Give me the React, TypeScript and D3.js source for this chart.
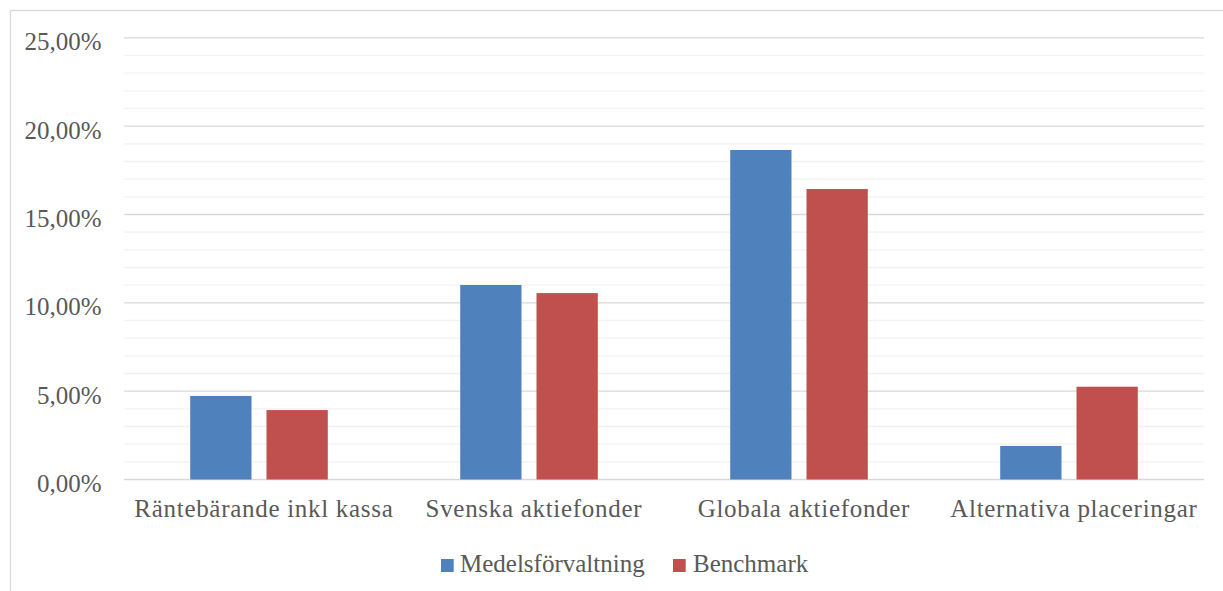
import React from "react";
import * as d3 from "d3";

const categories = [
  "Räntebärande inkl kassa",
  "Svenska aktiefonder",
  "Globala aktiefonder",
  "Alternativa placeringar",
];
const seriesNames = ["Medelsförvaltning", "Benchmark"];
const medelsforvaltning = [4.73, 11.01, 18.65, 1.9];
const benchmark = [3.93, 10.55, 16.44, 5.25];
const majorTicks = [0, 5, 10, 15, 20, 25];
const minorTicks = d3.range(0, 26, 1);
const colors = ["#4F81BD", "#C0504D"];

const W = 1223;
const H = 591;
const plot = { left: 124, right: 1204, top: 37.8, bottom: 479.5 };
const FONT = "'Liberation Serif', 'Times New Roman', serif";
const TEXT = "#595959";

export default function App() {
  const y = d3.scaleLinear().domain([0, 25]).range([plot.bottom, plot.top]);
  const x0 = d3.scaleBand<string>().domain(categories).range([plot.left, plot.right]).padding(0);
  const bw = x0.bandwidth();
  const groupW = 137.6;
  const x1 = d3
    .scaleBand<string>()
    .domain(seriesNames)
    .range([(bw - groupW) / 2, (bw + groupW) / 2])
    .paddingInner(15 / 76.3)
    .paddingOuter(0);
  const data = [medelsforvaltning, benchmark];
  const fmt = (v: number) => v.toFixed(2).replace(".", ",") + "%";

  const legendItems = [
    { name: seriesNames[0], sq: 441, tx: 460 },
    { name: seriesNames[1], sq: 673, tx: 693 },
  ];

  return (
    <svg
      width={W}
      height={H}
      style={{ position: "absolute", left: 0, top: 0, display: "block", background: "#fff" }}
      fontFamily={FONT}
    >
      <rect x={10.5} y={10.5} width={1228} height={600} fill="#fff" stroke="#d9d9d9" strokeWidth={1.3} />
      {minorTicks
        .filter((t) => t % 5 !== 0)
        .map((t) => (
          <line key={"m" + t} x1={plot.left} x2={plot.right} y1={y(t)} y2={y(t)} stroke="#f2f2f2" strokeWidth={1.3} />
        ))}
      {majorTicks.map((t) => (
        <line key={"M" + t} x1={plot.left} x2={plot.right} y1={y(t)} y2={y(t)} stroke="#d9d9d9" strokeWidth={1.3} />
      ))}
      {majorTicks.map((t) => (
        <text key={"l" + t} x={101.5} y={y(t) + 12.5} textAnchor="end" fontSize={25} fill={TEXT}>
          {fmt(t)}
        </text>
      ))}
      {categories.map((c, i) => (
        <g key={c} transform={`translate(${x0(c)},0)`}>
          {seriesNames.map((s, j) => (
            <rect
              key={s}
              x={x1(s)}
              width={x1.bandwidth()}
              y={y(data[j][i])}
              height={y(0) - y(data[j][i])}
              fill={colors[j]}
            />
          ))}
          <text
            x={bw / 2 + 4.9}
            y={516.7}
            textAnchor="middle"
            fontSize={25}
            letterSpacing={0.7}
            fill={TEXT}
          >
            {c}
          </text>
        </g>
      ))}
      {legendItems.map((l, j) => (
        <g key={l.name}>
          <rect x={l.sq} y={559} width={12.7} height={13} fill={colors[j]} />
          <text x={l.tx} y={571.5} fontSize={25} fill={TEXT}>
            {l.name}
          </text>
        </g>
      ))}
    </svg>
  );
}
